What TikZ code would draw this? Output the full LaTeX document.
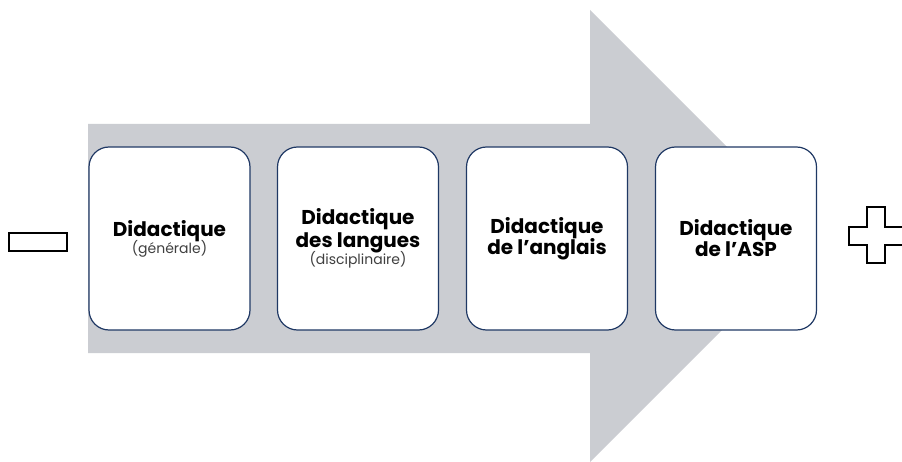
\documentclass[tikz,border=0pt]{standalone}
\usepackage{fontspec}
\setmainfont{Poppins}
\definecolor{pfeilgrau}{HTML}{CBCDD2}
\definecolor{randblau}{HTML}{1F3864}
\definecolor{textgrau}{HTML}{404040}
\newcommand{\zusatz}[1]{{\fontsize{14}{16}\selectfont\mdseries\color{textgrau}#1}}
\tikzset{
  kasten/.style={draw=randblau, line width=1.2pt, fill=white, rounded corners=20pt,
    minimum width=161pt, minimum height=183pt, align=center, inner sep=2pt,
    font=\fontsize{20}{23}\selectfont\bfseries},
  zeichen/.style={draw=black, line width=1.6pt, fill=white}
}
\begin{document}
\begin{tikzpicture}[x=1pt,y=-1pt]
        \useasboundingbox (0,0) rectangle (902,462);
        % Pfeil
        \fill [pfeilgrau] (88,124) -- (590,124) -- (590,10) -- (816,236)
              -- (590,462) -- (590,353) -- (88,353) -- cycle;
        % Kaesten
        \node [kasten] (allg) at (169.5,238.5) {Didactique\\[-6pt]\zusatz{(générale)}};
        \node [kasten] (lang) at (358,238.5) {Didactique\\des langues\\[-6pt]\zusatz{(disciplinaire)}};
        \node [kasten] (engl) at (547,238.5) {Didactique\\[-2pt]de l’anglais};
        \node [kasten] (asp) at (736,238.5) {Didactique\\[-2pt]de l’ASP};
        % Minus und Plus
        \draw [zeichen] (9,233) rectangle (67,251);
        \draw [zeichen] (867,207) -- (885,207) -- (885,227) -- (903,227) -- (903,245)
              -- (885,245) -- (885,263) -- (867,263) -- (867,245) -- (849,245)
              -- (849,227) -- (867,227) -- cycle;
\end{tikzpicture}
\end{document}
